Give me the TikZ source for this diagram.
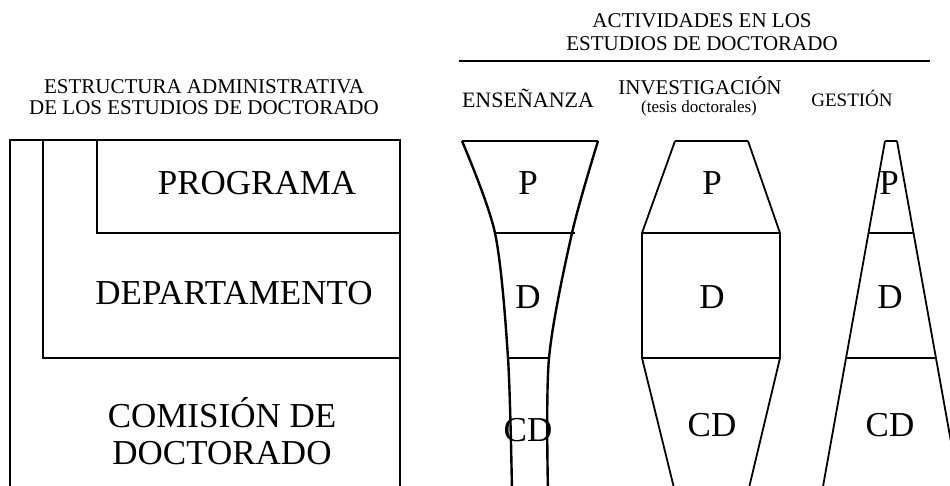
\documentclass[tikz,border=0pt]{standalone}
\usepackage{fontspec}
\setmainfont{Liberation Serif}

\begin{document}
\begin{tikzpicture}[
  x=1pt, y=-1pt,
  every node/.style={align=center, inner sep=0pt},
  heading/.style={font=\fontsize{21}{21}\selectfont},
  activity/.style={font=\fontsize{22}{22}\selectfont},
  level/.style={font=\fontsize{35}{37}\selectfont},
  tag/.style={font=\fontsize{35}{34}\selectfont},
  frame/.style={line width=2.4pt},
  side/.style={line width=1.8pt}
]
\useasboundingbox (0,0) rectangle (950,485);

% titles
\node[heading] (admin) at (204,97) {ESTRUCTURA ADMINISTRATIVA\\DE LOS ESTUDIOS DE DOCTORADO};
\node[heading, font=\fontsize{21}{23}\selectfont] (activ) at (702,32) {ACTIVIDADES EN LOS\\ESTUDIOS DE DOCTORADO};
\draw[frame] (459,61) -- (930,61);
\node[activity] (ens) at (528,98) {ENSEÑANZA};
\node[activity, font=\fontsize{21}{22}\selectfont] (inv) at (700,86) {INVESTIGACIÓN};
\node[font=\fontsize{17}{20}\selectfont] (tesis) at (699,108) {(tesis doctorales)};
\node[activity, font=\fontsize{19}{22}\selectfont] (ges) at (852,98) {GESTIÓN};

% nested structure
\draw[frame] (10,492) |- (400,140) -- (400,492);
\draw[frame] (43,140) rectangle (400,358);
\draw[frame] (97,140) rectangle (400,233);
\node[level] (prog) at (257,183) {PROGRAMA};
\node[level] (dep) at (234,293) {DEPARTAMENTO};
\node[level] (com) at (222,431) {COMISIÓN DE\\DOCTORADO};

% ensenanza
\draw[frame] (462,141) -- (598,141);
\draw[frame] plot[smooth] coordinates {(462,141) (495,233) (508,358) (512,492)};
\draw[frame] plot[smooth] coordinates {(598,141) (572,233) (549,358) (548,492)};
\draw[frame] (495,233) -- (575,233);
\draw[frame] (508,358) -- (549,358);
\node[tag] (p1) at (528,183) {P};
\node[tag] (d1) at (528,297) {D};
\node[tag] (cd1) at (528,430) {CD};

% investigacion
\draw[frame] (675,141) -- (748,141);
\draw[side] (675,141) -- (642,233) -- (642,358) -- (675,492);
\draw[side] (748,141) -- (780,233) -- (780,358) -- (748,492);
\draw[frame] (642,233) -- (780,233);
\draw[frame] (642,358) -- (780,358);
\node[tag] (p2) at (712,183) {P};
\node[tag] (d2) at (712,297) {D};
\node[tag] (cd2) at (712,425) {CD};

% gestion
\draw[frame] (885,141) -- (897,141);
\draw[side] (885,141) -- (822,492);
\draw[side] (897,141) -- (960,492);
\draw[frame] (868,233) -- (914,233);
\draw[frame] (846,358) -- (936,358);
\node[tag] (p3) at (889,183) {P};
\node[tag] (d3) at (890,297) {D};
\node[tag] (cd3) at (890,425) {CD};
\end{tikzpicture}
\end{document}
